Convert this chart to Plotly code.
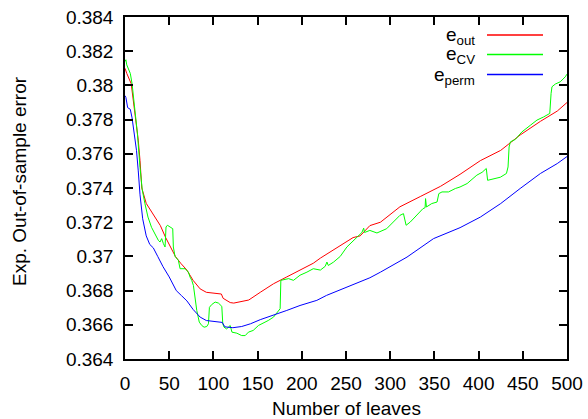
import plotly.graph_objects as go

# ---------------- data ----------------
leaves_out = [0, 2, 7, 9, 12, 15, 17, 19, 24, 29, 35, 40, 46, 52, 57, 63, 70, 77, 85, 92,
              104, 109, 111, 119, 123, 130, 140, 153, 168, 183, 198, 213, 221, 243, 258,
              266, 277, 289, 311, 334, 357, 379, 402, 425, 447, 470, 489, 500]
e_out = [0.3810, 0.3807, 0.3801, 0.3793, 0.3781, 0.3768, 0.3756, 0.3740, 0.3731, 0.3727,
         0.3722, 0.3718, 0.3711, 0.3705, 0.3700, 0.3696, 0.3692, 0.3686, 0.3681, 0.3679,
         0.3678, 0.3678, 0.36755, 0.3673, 0.36727, 0.36735, 0.36745, 0.3679, 0.3684, 0.3688,
         0.3692, 0.3696, 0.3699, 0.3706, 0.3711, 0.3712, 0.3718, 0.3720, 0.3729, 0.3735,
         0.3741, 0.3748, 0.3756, 0.3762, 0.3771, 0.3779, 0.3785, 0.3790]

leaves_cv = [0, 1, 2, 6, 8, 11, 14, 17, 19.5, 22.5, 26, 30, 34, 37.7, 39.6, 41.5, 43.4, 45.3,
             46.4, 48, 51, 54, 54.7, 56.6, 60.4, 62.3, 68, 71.7, 73.6, 75.5, 77.4, 79.3, 81.2,
             84, 86.8, 89.5, 92.5, 94.4, 95.5, 98, 102, 105.7, 109.5, 110.6, 112, 115, 119,
             121, 126.5, 132, 136, 139.6, 145, 151, 156.6, 162, 168, 173.6, 175.5, 176.3,
             179.3, 185, 190.6, 198, 205.8, 213, 221, 226.5, 228.4, 230, 236, 243.5, 251,
             258.5, 264, 268, 270, 271, 277, 285, 296, 305.8, 311, 315, 318, 322.7, 330, 337,
             339.5, 340, 341, 347, 353, 355, 358.6, 366, 373.7, 379, 387, 398, 404, 408.7,
             410.2, 417, 424.6, 431.5, 433.3, 434.5, 436, 441.5, 449, 458.6, 466, 473.7,
             480.5, 482, 483, 486.8, 492.4, 498, 500]
e_cv = [0.3814, 0.3815, 0.3812, 0.3807, 0.3801, 0.3787, 0.3772, 0.3752, 0.3739, 0.3731,
        0.3723, 0.3717, 0.3713, 0.37094, 0.37084, 0.37104, 0.37075, 0.37055, 0.37172,
        0.37182, 0.37172, 0.37162, 0.37055, 0.3700, 0.36977, 0.36928, 0.36928, 0.36908,
        0.36879, 0.3686, 0.3683, 0.36762, 0.36684, 0.36616, 0.36596, 0.36586, 0.3659,
        0.36606, 0.36702, 0.36718, 0.36733, 0.36727, 0.36708, 0.36606, 0.36586, 0.36576,
        0.36596, 0.36557, 0.36551, 0.36537, 0.36537, 0.36557, 0.36567, 0.36596, 0.36609,
        0.36625, 0.36645, 0.36684, 0.36694, 0.3686, 0.36864, 0.3687, 0.3686, 0.3689,
        0.36908, 0.36928, 0.3692, 0.36942, 0.36967, 0.36947, 0.36967, 0.3700, 0.37055,
        0.37094, 0.37117, 0.3714, 0.37165, 0.3714, 0.37152, 0.37137, 0.37162, 0.37211,
        0.3724, 0.3725, 0.37182, 0.37201, 0.3724, 0.37279, 0.37285, 0.37338, 0.37289,
        0.37309, 0.37318, 0.37367, 0.37377, 0.37377, 0.37397, 0.37406, 0.37426, 0.37475,
        0.37492, 0.37514, 0.37445, 0.37452, 0.37463, 0.37485, 0.37523, 0.3764, 0.3767,
        0.37684, 0.37728, 0.37767, 0.37797, 0.37816, 0.37836, 0.37953, 0.37992, 0.38008,
        0.38021, 0.3805, 0.38066]

leaves_perm = [0, 1, 3, 6, 8, 10, 13, 15, 17, 20, 24, 28, 32, 37, 43, 50, 58, 64, 70, 77,
               85, 92, 104, 110, 113, 122, 132, 142, 153, 168, 183, 198, 217, 228, 247, 266,
               277, 289, 319, 349, 379, 402, 425, 447, 470, 489, 500]
e_perm = [0.3794, 0.3793, 0.3787, 0.3786, 0.3781, 0.3774, 0.3762, 0.3750, 0.3736, 0.3722,
          0.3712, 0.3707, 0.3705, 0.3700, 0.3694, 0.3688, 0.3680, 0.3677, 0.3674, 0.3669,
          0.36645, 0.36625, 0.36616, 0.36614, 0.36588, 0.36583, 0.3659, 0.36606, 0.3663,
          0.36655, 0.36684, 0.36713, 0.36743, 0.36772, 0.36811, 0.3685, 0.36875, 0.36908,
          0.36996, 0.37104, 0.37168, 0.3723, 0.37309, 0.37397, 0.37485, 0.37543, 0.37584]

x_ticks = [0, 50, 100, 150, 200, 250, 300, 350, 400, 450, 500]
y_ticks = [0.364, 0.366, 0.368, 0.370, 0.372, 0.374, 0.376, 0.378, 0.380, 0.382, 0.384]
y_tick_labels = ["0.364", "0.366", "0.368", "0.37", "0.372", "0.374", "0.376", "0.378",
                 "0.38", "0.382", "0.384"]

series_names = ["e<sub>out</sub>", "e<sub>CV</sub>", "e<sub>perm</sub>"]
series_colors = ["#ff0000", "#00ff00", "#0000ff"]

x_title = "Number of leaves"
y_title = "Exp. Out-of-sample error"

# ---------------- figure ----------------
FONT = "Liberation Sans, Arial, Helvetica, sans-serif"
FS = 19

fig = go.Figure()
for xs, ys, col in [(leaves_out, e_out, series_colors[0]),
                    (leaves_cv, e_cv, series_colors[1]),
                    (leaves_perm, e_perm, series_colors[2])]:
    fig.add_trace(go.Scatter(x=xs, y=ys, mode="lines",
                             line=dict(color=col, width=1), showlegend=False,
                             hoverinfo="skip"))

axis_common = dict(
    showline=True, linecolor="black", linewidth=1.5, mirror="allticks",
    ticks="inside", ticklen=8, tickwidth=1.5, tickcolor="black",
    showgrid=False, zeroline=False,
    tickfont=dict(family=FONT, size=FS, color="black"),
)

fig.update_xaxes(range=[0, 500], tickvals=x_ticks, ticklabelstandoff=6, **axis_common)
fig.update_yaxes(range=[0.364, 0.384], tickvals=y_ticks, ticktext=y_tick_labels,
                 ticklabelstandoff=6, **axis_common)

L, R, T, B = 125, 21, 17, 60
W, H = 588, 419
pw, ph = W - L - R, H - T - B

def px_to_paper(px, py):
    return (px - L) / pw, (H - B - py) / ph

annotations = []
shapes = []
# axis titles
annotations.append(dict(text=x_title, xref="paper", yref="paper",
                        x=0.5, y=px_to_paper(0, 408)[1], xanchor="center", yanchor="middle",
                        showarrow=False, font=dict(family=FONT, size=FS, color="black")))
annotations.append(dict(text=y_title, xref="paper", yref="paper", textangle=-90,
                        x=px_to_paper(19, 0)[0], y=px_to_paper(0, 181)[1],
                        xanchor="center", yanchor="middle",
                        showarrow=False, font=dict(family=FONT, size=FS, color="black")))

# key (legend) in the top-right corner
legend_rows_py = [35, 54.5, 74.5]
for name, col, py in zip(series_names, series_colors, legend_rows_py):
    x0, yy = px_to_paper(487, py)
    x1, _ = px_to_paper(543, py)
    shapes.append(dict(type="line", xref="paper", yref="paper", x0=x0, x1=x1, y0=yy, y1=yy,
                       line=dict(color=col, width=1.5)))
    tx, ty = px_to_paper(477, py + 1)
    annotations.append(dict(text=name, xref="paper", yref="paper", x=tx, y=ty,
                            xanchor="right", yanchor="middle", showarrow=False,
                            font=dict(family=FONT, size=FS, color="black")))

fig.update_layout(
    width=W, height=H,
    margin=dict(l=L, r=R, t=T, b=B, autoexpand=False),
    paper_bgcolor="white", plot_bgcolor="white",
    annotations=annotations, shapes=shapes,
    showlegend=False,
)

fig.write_html(
    "out.html",
    config={"displayModeBar": False},
    post_script="document.body.style.margin='0';document.body.style.overflow='hidden';",
)
